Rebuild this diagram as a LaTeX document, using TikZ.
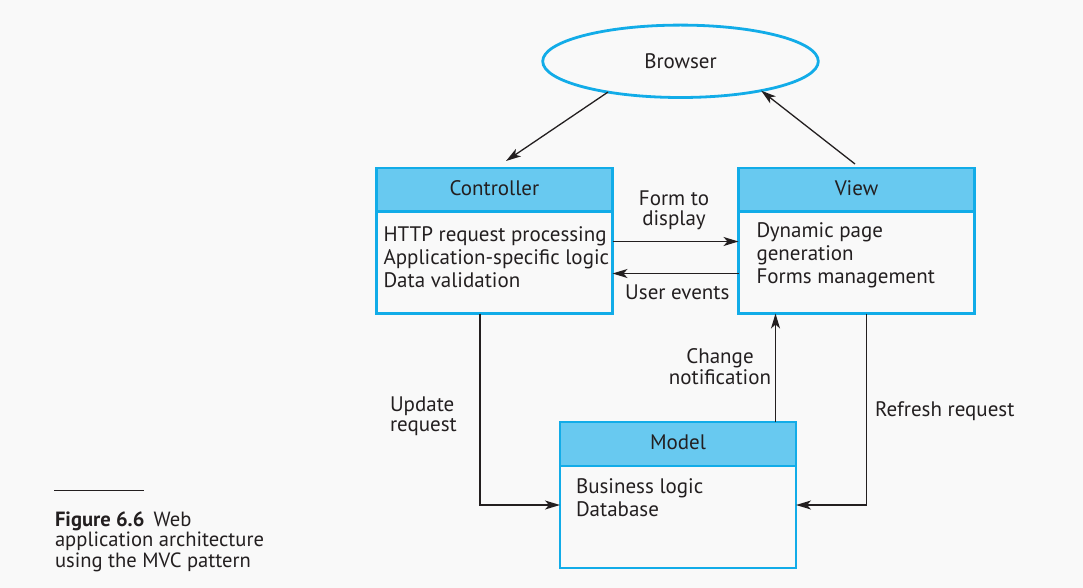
\documentclass[tikz,border=0pt]{standalone}
\usepackage{fontspec}
\setmainfont{PT Sans}
\usetikzlibrary{shapes.geometric,arrows.meta,calc}
\definecolor{bgc}{RGB}{249,249,249}
\definecolor{hdrc}{RGB}{104,201,240}
\definecolor{bordc}{RGB}{18,172,232}
\definecolor{inkc}{RGB}{35,31,32}
\newcommand\myleft[1]{\begin{tabular}[t]{@{}l@{}}#1\end{tabular}}
\newcommand\mycenter[1]{\begin{tabular}[t]{@{}c@{}}#1\end{tabular}}
\begin{document}
\begin{tikzpicture}[x=1pt,y=-1pt,
  every node/.style={text=inkc, inner sep=0pt, outer sep=0pt},
  bodyfont/.style={font=\fontsize{21}{23}\selectfont},
  lblfont/.style={font=\fontsize{21}{19.5}\selectfont},
  hdrbox/.style={draw=bordc, line width=2.8pt, fill=hdrc, minimum width=236pt, minimum height=43.5pt, anchor=north west, text height=13pt, text depth=2.4pt, bodyfont},
  bodybox/.style={draw=bordc, line width=2.8pt, fill=bgc, minimum width=236pt, minimum height=102pt, anchor=north west},
  conn/.style={draw=inkc, line width=1.3pt, -{Stealth[length=15pt,width=9pt,inset=4pt]}}]
\fill[bgc] (0,0) rectangle (1083,588);
\useasboundingbox (0,0) rectangle (1083,588);

% boxes
\node[bodybox] (ctrlB) at (376.5,211.5) {};
\node[hdrbox] (ctrlH) at (376.5,168) {Controller};
\node[bodybox] (viewB) at (738.5,211.5) {};
\node[hdrbox] (viewH) at (738.5,168) {View};
\node[bodybox] (modelB) at (560,466) {};
\node[hdrbox, minimum height=44pt] (modelH) at (560,422) {Model};

\node[ellipse, draw=bordc, line width=2.8pt, fill=bgc, minimum width=275.6pt, minimum height=72.4pt, text height=14pt, text depth=0pt, bodyfont] (browser) at (680.5,61.3) {Browser};

% body texts
\node[bodyfont, anchor=base west] (ctrlT) at (383.5,241.5) {\myleft{HTTP request processing\\Application-specific logic\\Data validation}};
\node[bodyfont, anchor=base west] (viewT) at (756.5,237.3) {\myleft{Dynamic page\\generation\\Forms management}};
\node[bodyfont, anchor=base west] (modelT) at (576,493.3) {\myleft{Business logic\\Database}};

% labels
\node[lblfont, anchor=base] (lform) at (674,205) {\mycenter{Form to\\display}};
\node[lblfont, anchor=base] (luser) at (677.3,299) {User events};
\node[lblfont, anchor=base] (lchange) at (720,363.3) {\mycenter{Change\\notification}};
\node[lblfont, anchor=base west] (lupdate) at (390,411.7) {\myleft{Update\\request}};
\node[lblfont, anchor=base west] (lrefresh) at (875,416.7) {Refresh request};

% connectors
\coordinate (cTip) at ($(ctrlH.north)+(11.5,-7)$);
\draw[conn] (browser.203) -- (cTip);
\coordinate (vS) at ($(viewH.north)+(-1.5,-4)$);
\draw[conn] (vS) -- (browser.340);
\draw[conn] ([yshift=21pt]ctrlB.east) -- ([yshift=21pt]viewB.west);
\draw[conn] ([yshift=-11pt]viewB.west) -- ([yshift=-11pt]ctrlB.east);
\coordinate (uS) at ($(ctrlB.south)+(-14.5,0)$);
\draw[conn] (uS) |- ([yshift=12pt]modelB.west);
\coordinate (rS) at ($(viewB.south)+(10,0)$);
\draw[conn] (rS) |- ([yshift=12pt]modelB.east);
\coordinate (nS) at ($(modelH.north)+(97.5,0)$);
\draw[conn] (nS) -- (nS |- viewB.south);

% caption
\draw[inkc, line width=1.2pt] (54,490.7) -- (144,490.7);
\node[font=\fontsize{20.6}{20.4}\selectfont, anchor=base west] (cap) at (55,526) {\myleft{\textbf{Figure 6.6}\hspace{0.45em}Web\\application architecture\\using the MVC pattern}};
\end{tikzpicture}
\end{document}
